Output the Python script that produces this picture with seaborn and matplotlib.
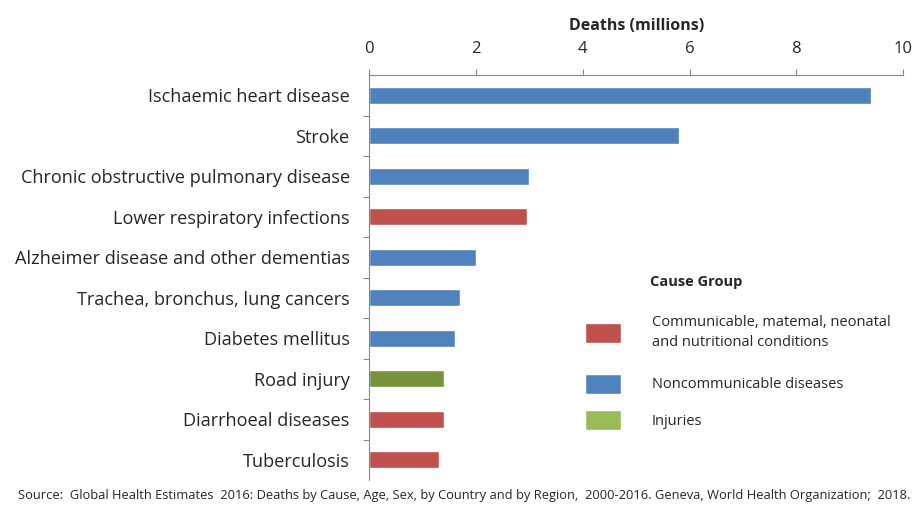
import pandas as pd
import matplotlib
matplotlib.use("Agg")
import matplotlib.pyplot as plt
from matplotlib.patches import Patch
from matplotlib.ticker import FixedLocator
import seaborn as sns

# data
causes = ["Ischaemic heart disease", "Stroke", "Chronic obstructive pulmonary disease",
          "Lower respiratory infections", "Alzheimer disease and other dementias",
          "Trachea, bronchus, lung cancers", "Diabetes mellitus", "Road injury",
          "Diarrhoeal diseases", "Tuberculosis"]
deaths = [9.4, 5.8, 3.0, 2.95, 2.0, 1.7, 1.6, 1.4, 1.4, 1.3]
groups = ["NCD", "NCD", "NCD", "CMN", "NCD", "NCD", "NCD", "INJ", "CMN", "CMN"]

group_labels = {"CMN": "Communicable, matemal, neonatal\nand nutritional conditions",
                "NCD": "Noncommunicable diseases",
                "INJ": "Injuries"}
bar_colors = {"CMN": "#C0504D", "NCD": "#4F81BD", "INJ": "#77933C"}
legend_colors = {"CMN": "#C0504D", "NCD": "#4F81BD", "INJ": "#9BBB59"}

df = pd.DataFrame({"cause": causes, "deaths": deaths, "group": groups})

sns.set_style("white")
plt.rcParams["font.family"] = ["Open Sans", "DejaVu Sans"]

fig = plt.figure(figsize=(9.14, 5.08), dpi=100)
ax = fig.add_axes([0.404, 0.055, 0.584, 0.797])

sns.barplot(data=df, x="deaths", y="cause", hue="group", palette=bar_colors,
            dodge=False, width=0.42, saturation=1, legend=False, ax=ax)

ax.set_xlim(0, 10)
ax.set_ylim(len(causes) - 0.5, -0.5)
ax.xaxis.set_ticks_position("top")
ax.xaxis.set_label_position("top")
ax.set_xticks([0, 2, 4, 6, 8, 10])
ax.tick_params(axis="x", length=4, width=0.8, color="#888888", labelsize=12, pad=9)
ax.set_xlabel("Deaths (millions)", fontsize=11.5, fontweight="bold", labelpad=8)
ax.set_ylabel("")
ax.tick_params(axis="y", length=0, labelsize=13.1, pad=14)
ax.yaxis.set_minor_locator(FixedLocator([i + 0.5 for i in range(len(causes) - 1)]))
ax.tick_params(axis="y", which="minor", length=4, width=0.8, color="#888888", left=True)

for side in ["right", "bottom"]:
    ax.spines[side].set_visible(False)
for side in ["top", "left"]:
    ax.spines[side].set_color("#888888")
    ax.spines[side].set_linewidth(0.8)

# legend: the two-line entry and the other two are placed as separate legends
leg_kw = dict(loc="center left", frameon=False, fontsize=10.5, borderpad=0, borderaxespad=0,
              handlelength=2.5, handleheight=1.75, handletextpad=2.1)
h_cmn = [Patch(facecolor=legend_colors["CMN"], label=group_labels["CMN"])]
leg1 = fig.legend(handles=h_cmn, bbox_to_anchor=(0.640, 0.346), **leg_kw)
for t in leg1.get_texts():
    t.set_linespacing(1.45)
h_rest = [Patch(facecolor=legend_colors[g], label=group_labels[g]) for g in ["NCD", "INJ"]]
fig.legend(handles=h_rest, bbox_to_anchor=(0.640, 0.2087), labelspacing=1.13, **leg_kw)
fig.text(0.711, 0.445, "Cause Group", fontsize=10.5, fontweight="bold", ha="left", va="center")

fig.text(0.02, 0.025, "Source:  Global Health Estimates  2016: Deaths by Cause, Age, Sex, by Country and by Region,  "
         "2000-2016. Geneva, World Health Organization;  2018.", fontsize=9.3, ha="left", va="center")

fig.savefig("out.png", dpi=100)
